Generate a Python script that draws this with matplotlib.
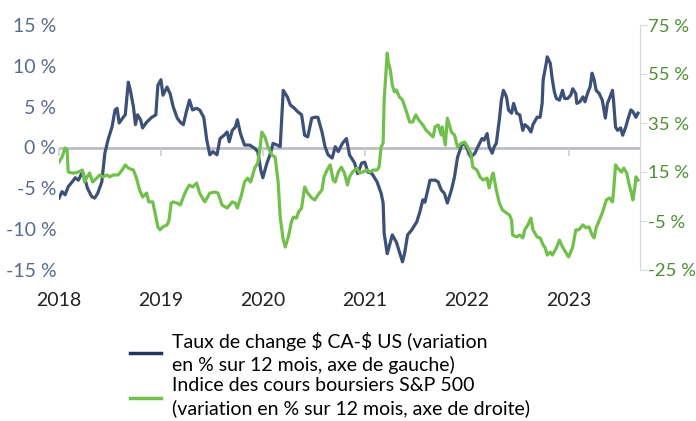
import matplotlib.pyplot as plt
import matplotlib.lines as mlines

# dates in decimal years, values in %
cad_t = [2018.00, 2018.03, 2018.06, 2018.09, 2018.13, 2018.16, 2018.19, 2018.23, 2018.25, 2018.28,
         2018.32, 2018.35, 2018.38, 2018.42, 2018.45, 2018.48, 2018.52, 2018.55, 2018.57, 2018.59,
         2018.63, 2018.65, 2018.68, 2018.70, 2018.73, 2018.75, 2018.77, 2018.80, 2018.82, 2018.86,
         2018.91, 2018.95, 2018.97, 2019.00, 2019.02, 2019.06, 2019.09, 2019.12, 2019.16, 2019.19,
         2019.22, 2019.25, 2019.28, 2019.31, 2019.35, 2019.38, 2019.42, 2019.45, 2019.48, 2019.51,
         2019.55, 2019.58, 2019.62, 2019.65, 2019.67, 2019.70, 2019.73, 2019.75, 2019.78, 2019.82,
         2019.87, 2019.92, 2019.95, 2019.98, 2020.00, 2020.04, 2020.07, 2020.10, 2020.14, 2020.17,
         2020.20, 2020.24, 2020.27, 2020.31, 2020.34, 2020.38, 2020.41, 2020.44, 2020.48, 2020.51,
         2020.54, 2020.58, 2020.61, 2020.64, 2020.68, 2020.71, 2020.74, 2020.78, 2020.82, 2020.85,
         2020.90, 2020.93, 2020.97, 2021.00, 2021.03, 2021.07, 2021.12, 2021.16, 2021.18, 2021.19,
         2021.22, 2021.25, 2021.27, 2021.31, 2021.34, 2021.37, 2021.39, 2021.42, 2021.46, 2021.51,
         2021.54, 2021.57, 2021.59, 2021.61, 2021.64, 2021.69, 2021.72, 2021.75, 2021.78, 2021.81,
         2021.85, 2021.88, 2021.91, 2021.95, 2021.98, 2022.01, 2022.04, 2022.08, 2022.11, 2022.15,
         2022.17, 2022.20, 2022.22, 2022.25, 2022.27, 2022.29, 2022.32, 2022.34, 2022.36, 2022.39,
         2022.41, 2022.44, 2022.46, 2022.49, 2022.52, 2022.55, 2022.57, 2022.60, 2022.63, 2022.65,
         2022.69, 2022.72, 2022.74, 2022.75, 2022.78, 2022.79, 2022.82, 2022.84, 2022.86, 2022.88,
         2022.91, 2022.94, 2022.96, 2022.99, 2023.02, 2023.04, 2023.07, 2023.08, 2023.11, 2023.14,
         2023.16, 2023.19, 2023.21, 2023.23, 2023.25, 2023.27, 2023.30, 2023.33, 2023.36, 2023.38,
         2023.40, 2023.43, 2023.44, 2023.46, 2023.48, 2023.51, 2023.53, 2023.56, 2023.58, 2023.61,
         2023.63, 2023.66, 2023.68]
cad_v = [-6.2, -5.4, -5.8, -4.8, -4.2, -3.7, -4.0, -3.0, -3.7, -5.0,
         -6.0, -6.2, -5.6, -4.2, -0.7, 0.9, 2.5, 4.6, 4.8, 3.0,
         3.7, 4.0, 8.0, 7.0, 5.0, 2.8, 4.0, 3.4, 2.4, 3.1,
         3.7, 4.0, 7.6, 8.3, 6.4, 7.4, 6.6, 5.0, 3.6, 3.1,
         2.8, 4.4, 5.8, 4.6, 4.8, 4.6, 3.7, 0.9, -0.9, -0.5,
         -0.9, 1.1, 1.5, 1.9, 0.7, 2.1, 2.5, 3.4, 1.7, 0.3,
         0.3, -0.1, -0.5, -2.8, -3.7, -1.9, -0.9, 0.5, 0.3, 0.1,
         7.0, 6.2, 5.2, 4.8, 4.4, 4.0, 1.5, 1.3, 3.6, 3.7,
         3.7, 1.9, 0.1, -0.9, -1.3, 0.1, -0.5, 0.5, 1.1, -0.9,
         -1.9, -3.2, -1.9, -1.8, -3.0, -3.2, -4.2, -5.6, -6.8, -10.5,
         -13.0, -11.6, -10.7, -11.6, -12.8, -14.0, -13.0, -10.7, -10.1, -9.1,
         -7.9, -6.4, -6.7, -5.6, -4.0, -4.0, -4.2, -5.2, -5.6, -6.8,
         -5.2, -3.6, -1.2, 0.3, 0.5, -0.3, -1.2, -0.7, 0.1, 1.1,
         0.9, 1.7, 0.1, -0.7, 0.1, 0.5, 3.4, 5.8, 7.0, 6.2,
         4.6, 4.2, 5.4, 4.2, 4.0, 2.1, 2.8, 2.5, 1.9, 2.8,
         3.7, 3.7, 5.4, 8.3, 10.3, 11.1, 10.3, 8.3, 6.8, 6.0,
         5.8, 7.0, 6.0, 6.0, 6.4, 7.2, 6.6, 5.4, 5.6, 6.2,
         5.6, 6.8, 7.4, 9.1, 8.3, 7.0, 6.6, 5.8, 3.6, 5.4,
         6.0, 7.0, 5.8, 2.5, 2.1, 2.4, 1.5, 2.5, 3.4, 4.6,
         4.4, 3.7, 4.2]

spx_t = [2018.00, 2018.03, 2018.06, 2018.08, 2018.09, 2018.13, 2018.16, 2018.19, 2018.23, 2018.25,
         2018.27, 2018.30, 2018.33, 2018.37, 2018.40, 2018.43, 2018.47, 2018.50, 2018.53, 2018.58,
         2018.62, 2018.65, 2018.68, 2018.73, 2018.76, 2018.79, 2018.82, 2018.86, 2018.88, 2018.92,
         2018.94, 2018.97, 2018.99, 2019.02, 2019.06, 2019.08, 2019.10, 2019.12, 2019.16, 2019.19,
         2019.22, 2019.25, 2019.28, 2019.31, 2019.35, 2019.38, 2019.43, 2019.48, 2019.53, 2019.56,
         2019.60, 2019.65, 2019.70, 2019.73, 2019.75, 2019.79, 2019.82, 2019.85, 2019.88, 2019.92,
         2019.95, 2019.97, 2019.99, 2020.02, 2020.05, 2020.09, 2020.12, 2020.15, 2020.17, 2020.20,
         2020.22, 2020.24, 2020.25, 2020.28, 2020.30, 2020.33, 2020.35, 2020.38, 2020.41, 2020.44,
         2020.48, 2020.51, 2020.54, 2020.58, 2020.60, 2020.63, 2020.66, 2020.69, 2020.71, 2020.74,
         2020.77, 2020.80, 2020.83, 2020.85, 2020.88, 2020.92, 2020.95, 2020.98, 2021.02, 2021.05,
         2021.08, 2021.12, 2021.14, 2021.16, 2021.18, 2021.19, 2021.22, 2021.23, 2021.25, 2021.27,
         2021.29, 2021.31, 2021.34, 2021.37, 2021.41, 2021.44, 2021.47, 2021.50, 2021.53, 2021.57,
         2021.60, 2021.63, 2021.67, 2021.69, 2021.72, 2021.75, 2021.76, 2021.79, 2021.81, 2021.85,
         2021.88, 2021.91, 2021.95, 2021.98, 2022.01, 2022.04, 2022.06, 2022.10, 2022.13, 2022.16,
         2022.20, 2022.22, 2022.25, 2022.26, 2022.29, 2022.32, 2022.35, 2022.39, 2022.42, 2022.44,
         2022.45, 2022.49, 2022.52, 2022.55, 2022.57, 2022.60, 2022.63, 2022.65, 2022.69, 2022.72,
         2022.75, 2022.77, 2022.79, 2022.82, 2022.84, 2022.88, 2022.91, 2022.94, 2022.97, 2023.00,
         2023.04, 2023.07, 2023.10, 2023.14, 2023.17, 2023.20, 2023.23, 2023.25, 2023.27, 2023.31,
         2023.33, 2023.37, 2023.40, 2023.43, 2023.44, 2023.46, 2023.48, 2023.52, 2023.54, 2023.57,
         2023.59, 2023.62, 2023.63, 2023.65, 2023.66, 2023.68]
spx_v = [19.1, 21.1, 24.8, 24.0, 15.0, 14.6, 14.6, 15.0, 15.8, 10.9,
         12.5, 14.6, 10.9, 12.5, 13.8, 13.0, 13.8, 13.0, 13.8, 13.8,
         15.8, 17.9, 16.6, 15.8, 12.5, 7.7, 4.8, 6.4, 2.8, 2.8,
         -1.3, -7.4, -8.6, -7.4, -6.6, -4.6, 2.3, 2.8, 2.3, 1.5,
         4.8, 7.7, 9.7, 8.9, 10.5, 6.4, 2.8, 6.4, 6.8, 6.4,
         1.5, 0.3, 2.8, 2.3, 0.3, 5.6, 10.9, 12.5, 10.9, 16.6,
         18.7, 24.0, 31.3, 29.3, 25.2, 21.9, 21.1, 10.9, -3.4, -12.8,
         -15.6, -12.8, -11.5, -5.4, -3.4, -3.8, -1.3, 0.3, 8.9, 6.4,
         4.4, 3.6, 5.6, 7.7, 13.0, 15.8, 17.9, 11.7, 10.9, 15.0,
         17.0, 14.6, 9.7, 13.0, 15.0, 16.6, 14.6, 15.0, 15.8, 15.0,
         15.8, 15.8, 17.0, 25.2, 26.8, 44.4, 63.5, 60.0, 56.6, 50.5,
         47.7, 48.5, 45.6, 44.4, 39.5, 35.4, 35.4, 38.3, 36.2, 34.2,
         32.1, 30.9, 29.3, 33.4, 34.2, 30.1, 33.4, 26.0, 37.0, 31.3,
         30.1, 25.2, 26.8, 27.2, 25.2, 22.7, 17.0, 15.8, 13.0, 11.7,
         12.5, 8.5, 13.8, 14.6, 7.7, 2.3, -0.5, -1.7, -2.6, -4.6,
         -10.7, -11.5, -10.7, -11.9, -8.6, -6.6, -3.8, -8.6, -11.5, -11.9,
         -14.8, -16.0, -18.9, -17.7, -18.9, -16.0, -12.8, -15.6, -17.7, -19.7,
         -15.6, -8.6, -8.6, -6.6, -7.8, -7.4, -10.7, -11.9, -7.8, -3.8,
         -1.7, 3.6, 4.4, 2.8, 6.8, 17.9, 16.6, 15.0, 16.6, 14.6,
         10.5, 5.6, 3.6, 8.9, 13.0, 11.7]

years = [2018, 2019, 2020, 2021, 2022, 2023]
left_ticks = [15, 10, 5, 0, -5, -10, -15]
right_ticks = [75, 55, 35, 15, -5, -25]

label_cad = "Taux de change \\$ CA-\\$ US (variation\nen % sur 12 mois, axe de gauche)"
label_spx = "Indice des cours boursiers S&P 500\n(variation en % sur 12 mois, axe de droite)"

navy = "#3c5078"
green = "#72c04c"
plt.rcParams['font.family'] = ['Lato', 'DejaVu Sans']
fs = 14

fig = plt.figure(figsize=(6.96, 4.21), dpi=100)
ax = fig.add_axes([59 / 696, 1 - 270 / 421, 581 / 696, 245 / 421])
ax2 = ax.twinx()

ax.axhline(0, color="#babdc4", linewidth=2, zorder=1)
ax.plot(cad_t, cad_v, color=navy, linewidth=2.3, zorder=3)
ax2.plot(spx_t, spx_v, color=green, linewidth=2.3)

ax.set_xlim(2018.0, 2023.70)
ax.set_ylim(-15, 15)
ax2.set_ylim(-25, 75)

# x axis sits on the zero line: small ticks there, year labels pushed down to the bottom
ax.spines["bottom"].set_position(("data", 0))
ax.set_xticks(years)
ax.set_xticklabels([str(y) for y in years], fontsize=fs, color="#222222")
ax.tick_params(axis="x", direction="out", length=6, width=1.2, color="#cdd0d5", pad=98)
ax.set_yticks(left_ticks)
ax.set_yticklabels([f"{t} %" for t in left_ticks], fontsize=fs, color="#5a6a8c")
ax.tick_params(axis="y", length=0, pad=2)

ax2.set_yticks(right_ticks)
ax2.set_yticklabels([f"{t} %" for t in right_ticks], fontsize=13.3, color="#4e8f35")
ax2.tick_params(axis="y", length=5, color="#d5d7db", pad=1)

for s in ["top", "left", "bottom"]:
    ax.spines[s].set_visible(False)
    ax2.spines[s].set_visible(False)
ax.spines["right"].set_visible(False)
ax2.spines["right"].set_color("#d5d7db")

h1 = mlines.Line2D([], [], color="#23345e", linewidth=2.5)
h2 = mlines.Line2D([], [], color=green, linewidth=2.5)
leg = fig.legend([h1, h2], [label_cad, label_spx], loc="upper left",
                 bbox_to_anchor=(130 / 696, 1 - 332 / 421), frameon=False,
                 fontsize=fs, handlelength=1.6, handletextpad=0.55, labelspacing=0.15,
                 borderaxespad=0, borderpad=0)
for t in leg.get_texts():
    t.set_linespacing(1.35)

fig.savefig("out.png", dpi=100)
